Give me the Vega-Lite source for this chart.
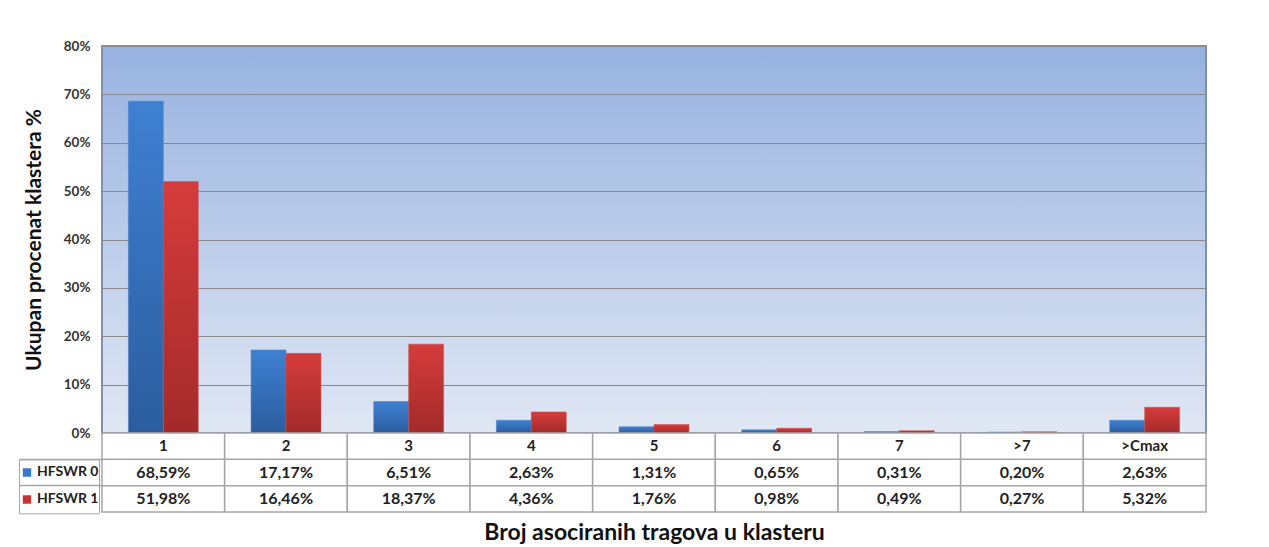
{
  "$schema": "https://vega.github.io/schema/vega-lite/v6.json",
  "background": "white",
  "padding": {"left": 18, "top": 38, "right": 5, "bottom": 2},
  "config": {
    "locale": {"number": {"decimal": ",", "thousands": ".", "grouping": [3], "currency": ["", " €"], "percent": "%"}},
    "font": "Lato",
    "view": {"stroke": null}
  },
  "data": {"values": [
    {"cat": "1", "series": "HFSWR 0", "value": 0.6859},
    {"cat": "1", "series": "HFSWR 1", "value": 0.5198},
    {"cat": "2", "series": "HFSWR 0", "value": 0.1717},
    {"cat": "2", "series": "HFSWR 1", "value": 0.1646},
    {"cat": "3", "series": "HFSWR 0", "value": 0.0651},
    {"cat": "3", "series": "HFSWR 1", "value": 0.1837},
    {"cat": "4", "series": "HFSWR 0", "value": 0.0263},
    {"cat": "4", "series": "HFSWR 1", "value": 0.0436},
    {"cat": "5", "series": "HFSWR 0", "value": 0.0131},
    {"cat": "5", "series": "HFSWR 1", "value": 0.0176},
    {"cat": "6", "series": "HFSWR 0", "value": 0.0065},
    {"cat": "6", "series": "HFSWR 1", "value": 0.0098},
    {"cat": "7", "series": "HFSWR 0", "value": 0.0031},
    {"cat": "7", "series": "HFSWR 1", "value": 0.0049},
    {"cat": ">7", "series": "HFSWR 0", "value": 0.0020},
    {"cat": ">7", "series": "HFSWR 1", "value": 0.0027},
    {"cat": ">Cmax", "series": "HFSWR 0", "value": 0.0263},
    {"cat": ">Cmax", "series": "HFSWR 1", "value": 0.0532}
  ]},
  "spacing": 0,
  "bounds": "flush",
  "resolve": {"scale": {"color": "independent"}, "legend": {"color": "independent"}},
  "vconcat": [
    {
      "width": 1104,
      "height": 387,
      "view": {
        "fill": {"gradient": "linear", "x1": 0, "y1": 0, "x2": 0, "y2": 1,
          "stops": [{"offset": 0, "color": "#97b2e0"}, {"offset": 1, "color": "#e0e7f4"}]},
        "stroke": "#7f8fb0",
        "strokeWidth": 2
      },
      "encoding": {
        "x": {"field": "cat", "type": "nominal",
          "scale": {"domain": ["1", "2", "3", "4", "5", "6", "7", ">7", ">Cmax"], "paddingInner": 0.43, "paddingOuter": 0.215},
          "axis": null},
        "xOffset": {"field": "series", "type": "nominal", "scale": {"domain": ["HFSWR 0", "HFSWR 1"], "paddingInner": 0}},
        "y": {"field": "value", "type": "quantitative",
          "scale": {"domain": [0, 0.8], "nice": false},
          "axis": {
            "values": [0, 0.1, 0.2, 0.3, 0.4, 0.5, 0.6, 0.7, 0.8],
            "format": ".0%",
            "domain": false, "ticks": false,
            "grid": true, "gridColor": "#8a8a8a", "gridWidth": 1,
            "labelFont": "Lato", "labelFontWeight": "bold", "labelFontSize": 13.5, "labelColor": "#333333", "labelPadding": 12,
            "title": "Ukupan procenat klastera %",
            "titleFont": "Lato", "titleFontWeight": "bold", "titleFontSize": 21, "titleColor": "#111111", "titlePadding": 19
          }}
      },
      "layer": [
        {
          "transform": [{"filter": "datum.series == 'HFSWR 0'"}],
          "mark": {"type": "bar", "color": {"gradient": "linear", "x1": 0, "y1": 0, "x2": 0, "y2": 1,
            "stops": [{"offset": 0, "color": "#3f80d3"}, {"offset": 1, "color": "#2b5d9e"}]},
            "stroke": "#4a84cc", "strokeWidth": 0.5}
        },
        {
          "transform": [{"filter": "datum.series == 'HFSWR 1'"}],
          "mark": {"type": "bar", "color": {"gradient": "linear", "x1": 0, "y1": 0, "x2": 0, "y2": 1,
            "stops": [{"offset": 0, "color": "#d63c3c"}, {"offset": 1, "color": "#a32a2a"}]},
            "stroke": "#cc4a4a", "strokeWidth": 0.5}
        }
      ]
    },
    {
      "width": 1104,
      "height": 79,
      "encoding": {
        "x": {"field": "cat", "type": "nominal",
          "scale": {"domain": ["1", "2", "3", "4", "5", "6", "7", ">7", ">Cmax"], "paddingInner": 0, "paddingOuter": 0},
          "axis": {
            "labels": false, "ticks": false, "domain": false,
            "title": "Broj asociranih tragova u klasteru",
            "titleFont": "Lato", "titleFontWeight": "bold", "titleFontSize": 23, "titleColor": "#111111", "titlePadding": 9
          }},
        "y": {"field": "series", "type": "nominal",
          "scale": {"domain": ["hdr", "HFSWR 0", "HFSWR 1"], "paddingInner": 0, "paddingOuter": 0},
          "axis": {
            "values": ["HFSWR 0", "HFSWR 1"], "bandPosition": 0,
            "labels": false, "domain": false,
            "tickSize": 83, "tickColor": "#a6a6a6", "tickWidth": 1.5,
            "title": null
          }}
      },
      "layer": [
        {
          "mark": {"type": "rect", "fill": "white", "stroke": "#a6a6a6", "strokeWidth": 1.5}
        },
        {
          "transform": [{"filter": "datum.series == 'HFSWR 0'"}],
          "mark": {"type": "rect", "fill": "white", "stroke": "#a6a6a6", "strokeWidth": 1.5},
          "encoding": {"y": {"datum": "hdr"}}
        },
        {
          "transform": [{"filter": "datum.series == 'HFSWR 0'"}],
          "mark": {"type": "text", "font": "Lato", "fontWeight": "bold", "fontSize": 15, "color": "#222222"},
          "encoding": {"y": {"datum": "hdr"}, "text": {"field": "cat"}}
        },
        {
          "mark": {"type": "text", "font": "Lato", "fontWeight": "bold", "fontSize": 16, "color": "#222222"},
          "encoding": {"text": {"field": "value", "type": "quantitative", "format": ".2%"}}
        },
        {
          "mark": {"type": "point", "opacity": 0, "filled": true},
          "encoding": {
            "color": {"field": "series", "type": "nominal",
              "scale": {"domain": ["HFSWR 0", "HFSWR 1"], "range": ["#3a78c8", "#c83434"]},
              "legend": {
                "orient": "none", "legendX": -83, "legendY": 26.3,
                "title": null,
                "symbolType": "square", "symbolSize": 70, "symbolOpacity": 1, "symbolStrokeWidth": 0, "symbolOffset": 1,
                "labelFont": "Lato", "labelFontWeight": "bold", "labelFontSize": 14, "labelColor": "#222222", "labelOffset": 3,
                "strokeColor": "#a6a6a6", "padding": 0, "rowPadding": 0, "clipHeight": 26.3
              }}
          }
        }
      ]
    }
  ]
}
